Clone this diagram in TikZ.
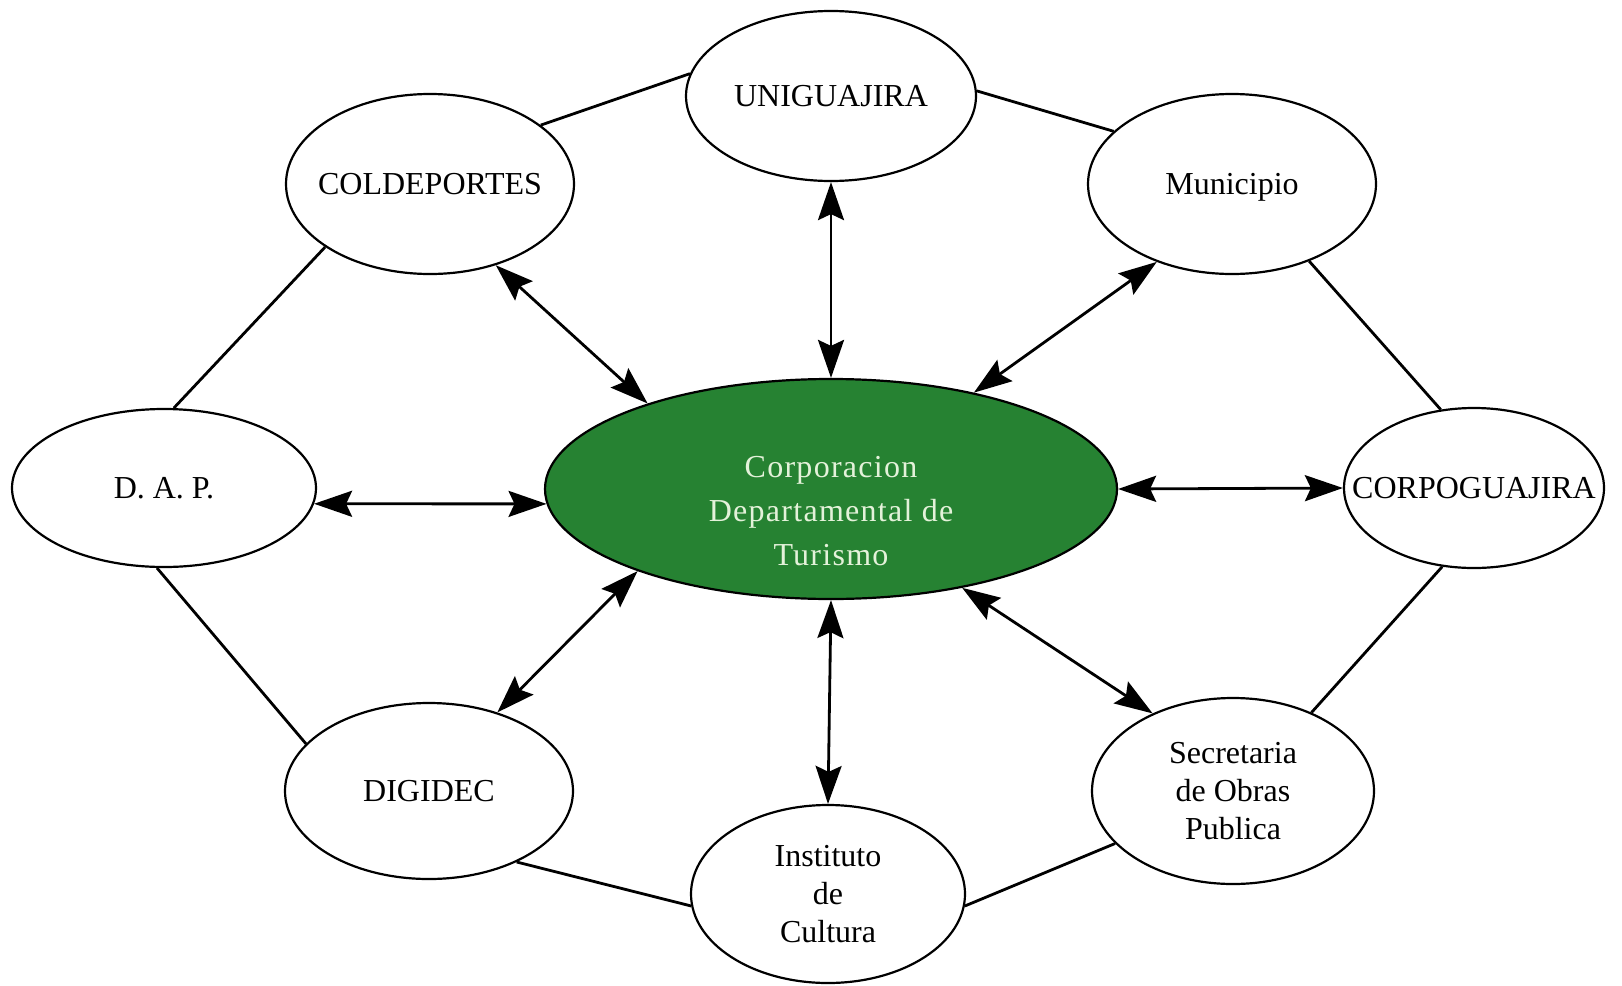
\documentclass[tikz,border=0pt]{standalone}
\usepackage{fontspec}
\setmainfont{Liberation Serif}
\usepackage{tikz}
\usetikzlibrary{shapes.geometric, arrows.meta}

\definecolor{hubgreen}{RGB}{38,130,50}
\definecolor{hubtext}{RGB}{228,242,218}

\tikzset{
  org/.style={draw=black, line width=1.1pt, fill=white, shape=ellipse,
    inner xsep=-45pt, inner ysep=-12pt,
    align=center, font=\fontsize{16}{19}\selectfont},
  hub/.style={draw=black, line width=1.1pt, fill=hubgreen, shape=ellipse, inner sep=0pt},
  hubtitle/.style={align=center, text=hubtext,
    font=\fontsize{16}{22}\selectfont\addfontfeature{LetterSpace=4}},
  ring/.style={line width=1.4pt},
  link/.style={line width=1.4pt,
    {Stealth[length=19pt,width=13pt,inset=3pt]}-{Stealth[length=19pt,width=13pt,inset=3pt]}}
}

\begin{document}
\begin{tikzpicture}[x=0.5pt, y=-0.5pt]
      \useasboundingbox (0,0) rectangle (1622,985);
      % centre
      \node[hub, minimum width=286pt, minimum height=110pt,
        label={[hubtitle, yshift=-11pt]center:Corporacion\\Departamental de\\Turismo}]
        (cdt) at (831,489) {};
      % outer ring
      \node[org, minimum width=145pt, minimum height=85pt] (unig) at (831,96) {UNIGUAJIRA};
      \node[org, minimum width=144pt, minimum height=90pt] (colde) at (430,184) {COLDEPORTES};
      \node[org, minimum width=144pt, minimum height=90pt, text depth=0pt] (muni) at (1232,184) {Municipio};
      \node[org, minimum width=152pt, minimum height=79pt] (dap) at (164,488) {D. A. P.};
      \node[org, minimum width=130pt, minimum height=80pt] (corpo) at (1474,488) {CORPOGUAJIRA};
      \node[org, minimum width=144pt, minimum height=88pt] (digi) at (429,791) {DIGIDEC};
      \node[org, minimum width=141pt, minimum height=93pt] (secre) at (1233,791)
        {Secretaria\\de Obras\\Publica};
      \node[org, minimum width=137pt, minimum height=89pt] (inst) at (828,894)
        {Instituto\\de\\Cultura};
      % ring lines
      \draw[ring] (colde.28) -- (unig.171);
      \draw[ring] (unig.2) -- (muni.156);
      \draw[ring] (muni.315) -- (corpo.113);
      \draw[ring] (corpo.248) -- (secre.45);
      \draw[ring] (secre.204) -- (inst.355);
      \draw[ring] (inst.185) -- (digi.321);
      \draw[ring] (digi.159) -- (dap.265);
      \draw[ring] (dap.83) -- (colde.211);
      % arrows to the centre
      \draw[link] (unig.270) -- (cdt.90);
      \draw[link] (colde.309) -- (cdt.155);
      \draw[link] (muni.226) -- (cdt.34);
      \draw[link] (dap.354) -- (cdt.183);
      \draw[link] (corpo.180) -- (cdt.0);
      \draw[link] (digi.49) -- (cdt.203);
      \draw[link] (secre.136) -- (cdt.323);
      \draw[link] (inst.90) -- (cdt.270);
\end{tikzpicture}
\end{document}
